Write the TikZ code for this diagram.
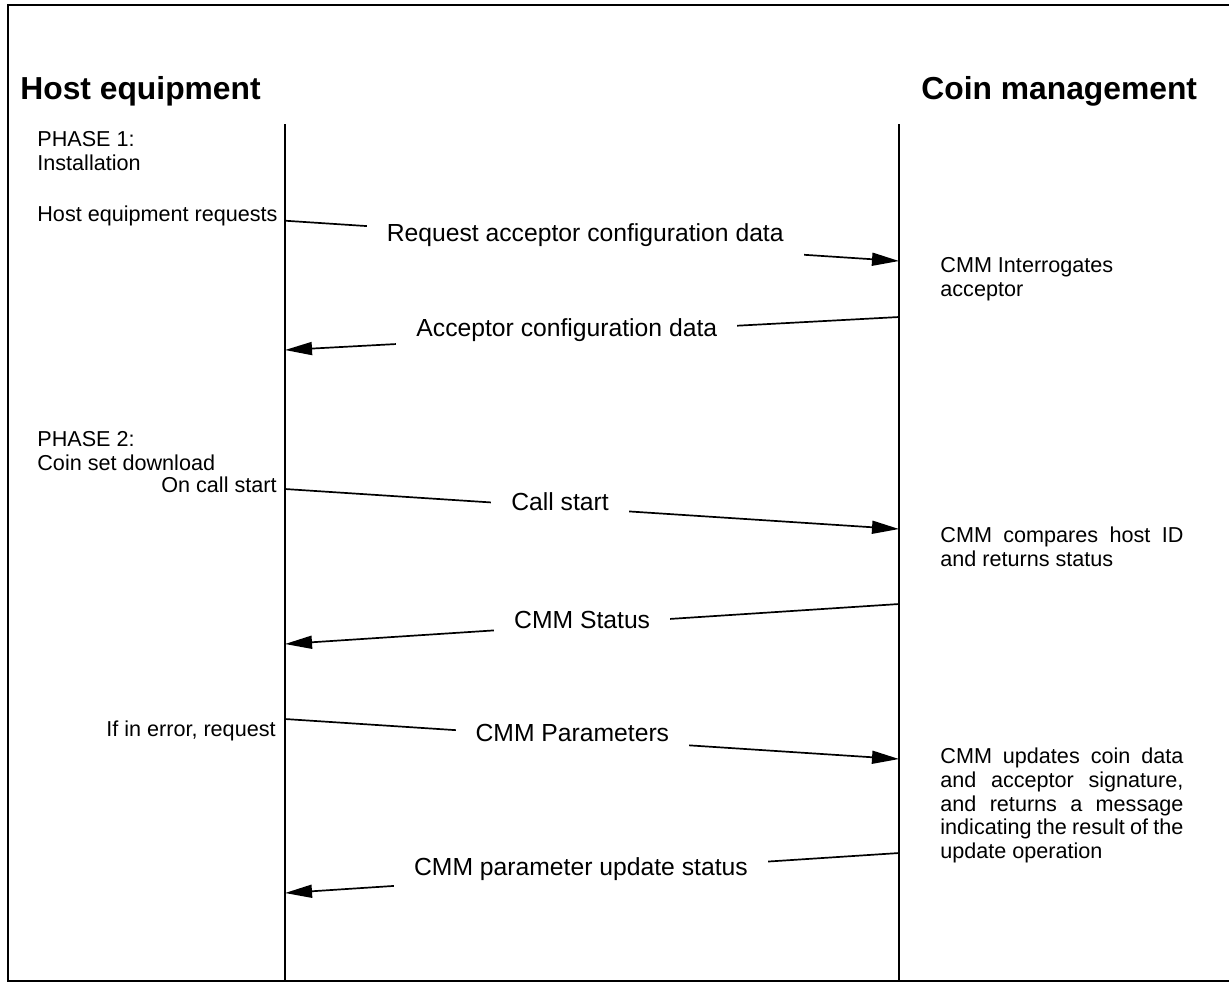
\documentclass[tikz,border=0pt]{standalone}
\usepackage{fontspec}
\setmainfont{Liberation Sans}
\usepackage{tikz}
\usetikzlibrary{arrows.meta}
\newcommand{\fullline}[1]{\makebox[121.5pt][s]{#1}}

\begin{document}
\begin{tikzpicture}[
    x=0.5pt, y=-0.5pt,
    frame/.style={line width=1.1pt},
    lifeline/.style={line width=0.9pt},
    msg/.style={-{Triangle[length=13.5pt, width=6.5pt]}, line width=0.85pt},
    lbl/.style={fill=white, font=\fontsize{12.35}{14}\selectfont, inner xsep=10pt, inner ysep=8pt, yshift=2.5pt},
    head/.style={font=\fontsize{15.9}{19}\selectfont\bfseries, inner sep=0pt},
    note/.style={font=\fontsize{10.8}{11.9}\selectfont, inner sep=0pt, align=left},
  ]
    \useasboundingbox (0,0) rectangle (1229,982);
    % frame, open on the right
    \draw[frame] (1229,5) -- (8,5) -- (8,981) -- (1229,981);

    % headings
    \node[head, anchor=base west] (hostHead) at (20,99) {Host equipment};
    \node[head, anchor=base west] (cmmHead) at (921,99) {Coin management};

    % lifelines
    \coordinate (hostTop) at (285,124);
    \coordinate (hostBot) at (285,981);
    \coordinate (cmmTop) at (899,124);
    \coordinate (cmmBot) at (899,981);
    \draw[lifeline] (hostTop) -- (hostBot);
    \draw[lifeline] (cmmTop) -- (cmmBot);

    % message ends on the lifelines
    \foreach \n/\hy/\cy in {1/220.7/261, 2/350/317, 3/489/529, 4/644/604, 5/719/759, 6/893/853} {
      \coordinate (h\n) at (285,\hy);
      \coordinate (c\n) at (899,\cy);
    }

    % phase 1
    \node[note, anchor=north west] (phase1) at (37,131.4) {PHASE 1:\\Installation};
    \node[note, anchor=base west] (hostReq) at (37,221) {Host equipment requests};
    \draw[msg] (h1) -- node[lbl, pos=0.489] (reqCfg) {Request acceptor configuration data} (c1);
    \node[note, anchor=north west] (interrog) at (940,257.4) {CMM Interrogates\\acceptor};
    \draw[msg] (c2) -- node[lbl, pos=0.541] (cfgData) {Acceptor configuration data} (h2);

    % phase 2
    \node[note, anchor=north west] (phase2) at (37,431.4) {PHASE 2:\\Coin set download};
    \node[note, anchor=base east] (callNote) at (277,492) {On call start};
    \draw[msg] (h3) -- node[lbl, pos=0.448] (callStart) {Call start} (c3);
    \node[note, anchor=north west] (compares) at (940,526.4) {\fullline{CMM compares host ID}\\and returns status};
    \draw[msg] (c4) -- node[lbl, pos=0.516] (cmmStatus) {CMM Status} (h4);
    \node[note, anchor=base east] (errNote) at (276,736) {If in error, request};
    \draw[msg] (h5) -- node[lbl, pos=0.468] (cmmParam) {CMM Parameters} (c5);
    \node[note, anchor=north west] (updates) at (940,747.4) {\fullline{CMM updates coin data}\\
      \fullline{and acceptor signature,}\\
      \fullline{and returns a message}\\
      \fullline{indicating the result of the}\\
      update operation};
    \draw[msg] (c6) -- node[lbl, pos=0.518] (updStatus) {CMM parameter update status} (h6);
  \end{tikzpicture}
\end{document}
